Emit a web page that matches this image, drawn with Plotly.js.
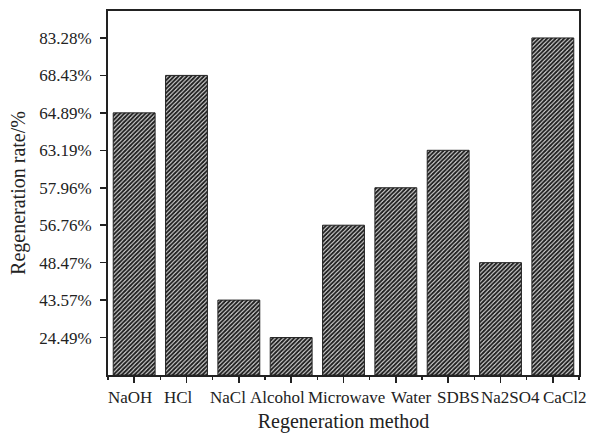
<!DOCTYPE html>
<html>
<head>
<meta charset="utf-8">
<script src="https://cdn.plot.ly/plotly-3.0.1.min.js"></script>
<style>
  html, body { margin: 0; padding: 0; background: #fff; }
  #chart { width: 589px; height: 433px; }
</style>
</head>
<body>
<div id="chart"></div>
<script>
// Regeneration methods and their regeneration rates (%)
const methods = ['NaOH', 'HCl', 'NaCl', 'Alcohol', 'Microwave', 'Water', 'SDBS', 'Na2SO4', 'CaCl2'];
const rates = [64.89, 68.43, 43.57, 24.49, 56.76, 57.96, 63.19, 48.47, 83.28];

// The value axis is ordinal: each rate sits on its own evenly spaced level,
// ordered from the lowest to the highest rate.
const sortedRates = rates.slice().sort((a, b) => a - b);
const levels = rates.map(r => sortedRates.indexOf(r) + 1);
const levelVals = sortedRates.map((r, i) => i + 1);
const levelText = sortedRates.map(r => r.toFixed(2) + '%');

const xIdx = methods.map((m, i) => i);

// Horizontal nudges (px) so the long category names sit side by side without overlapping
const labelNudge = [-4.5, -8, -11, -13.5, 3, 15, 10, 10, 12];

const font = { family: '"Liberation Serif", "Times New Roman", serif', color: '#222' };

const trace = {
  type: 'bar',
  x: xIdx,
  y: levels,
  width: 0.8,
  marker: {
    color: '#ffffff',
    line: { color: '#222', width: 1 },
    pattern: { shape: '/', fgcolor: '#222', bgcolor: '#ffffff', size: 3, solidity: 0.72 }
  },
  hoverinfo: 'skip'
};

const categoryLabels = methods.map((m, i) => ({
  xref: 'x',
  yref: 'paper',
  x: xIdx[i],
  y: 0,
  xanchor: 'center',
  yanchor: 'top',
  xshift: labelNudge[i],
  yshift: -11,
  text: m,
  showarrow: false,
  font: Object.assign({ size: 17 }, font)
}));

const layout = {
  width: 589,
  height: 433,
  margin: { l: 108, r: 10, t: 11, b: 58 },
  paper_bgcolor: '#ffffff',
  plot_bgcolor: '#ffffff',
  showlegend: false,
  font: Object.assign({ size: 17 }, font),
  annotations: categoryLabels,
  xaxis: {
    range: [-0.5, 8.5],
    tickmode: 'array',
    tickvals: xIdx,
    showticklabels: false,
    ticks: 'outside',
    ticklen: 6,
    tickwidth: 1.5,
    tickcolor: '#222',
    minor: { tickmode: 'linear', tick0: -0.5, dtick: 1, ticks: 'outside', ticklen: 3, tickwidth: 1.5, tickcolor: '#222' },
    showline: true,
    linecolor: '#222',
    linewidth: 2,
    mirror: true,
    showgrid: false,
    zeroline: false,
    title: { text: 'Regeneration method', font: Object.assign({ size: 20 }, font), standoff: 32 }
  },
  yaxis: {
    range: [0, 9.72],
    tickmode: 'array',
    tickvals: levelVals,
    ticktext: levelText,
    ticks: 'outside',
    ticklen: 6,
    tickwidth: 1.5,
    tickcolor: '#222',
    ticklabelstandoff: 5,
    showline: true,
    linecolor: '#222',
    linewidth: 2,
    mirror: true,
    showgrid: false,
    zeroline: false,
    tickfont: Object.assign({ size: 17 }, font),
    title: { text: 'Regeneration rate/%', font: Object.assign({ size: 20 }, font), standoff: 8 }
  }
};

Plotly.newPlot('chart', [trace], layout, { staticPlot: true, displayModeBar: false });
</script>
</body>
</html>
